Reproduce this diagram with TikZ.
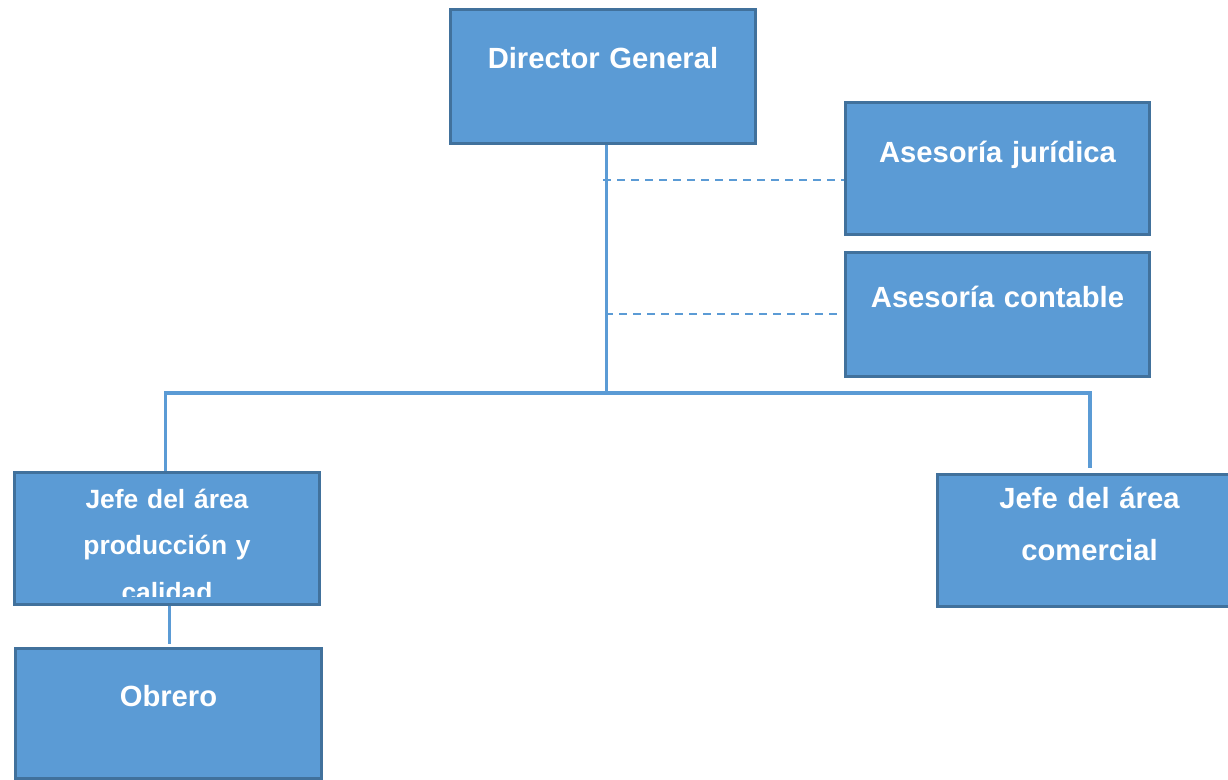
\documentclass[tikz,border=0pt]{standalone}
\usepackage{fontspec}
\setmainfont{Liberation Sans}
\usetikzlibrary{positioning}
\definecolor{boxblue}{HTML}{5B9BD5}
\definecolor{edgeblue}{HTML}{41719C}
\tikzset{
    unit/.style={draw=edgeblue, fill=boxblue, line width=1.5pt, inner sep=0pt,
        text=white, align=center, font=\bfseries\fontsize{14.6}{26}\selectfont},
    unittext/.style={text=white, align=center, inner sep=0pt,
        font=\bfseries\fontsize{13.2}{23.25}\selectfont},
    link/.style={boxblue, line width=1.75pt},
    dashlink/.style={boxblue, line width=1pt, dash pattern=on 4pt off 3pt},
}

\begin{document}
\begin{tikzpicture}[x=0.5pt, y=-0.5pt]
        \useasboundingbox (0,0) rectangle (1228,780);
        % Below nodes are the boxes.
            \node[unit, text width=152.5pt, text height=29.75pt, text depth=37.25pt] (dir) at (603,76.5) {Director General};
            \node[unit, text width=152pt, text height=30pt, text depth=36pt] (jur) at (997.5,169) {Asesoría jurídica};
            \node[unit, text width=152pt, text height=27.5pt, text depth=34.5pt] (con) at (997.5,315) {Asesoría contable};
            \node[unit, text width=152.5pt, minimum height=66pt] (prod) at (167,538.5) {};
            \node[unit, text width=152pt, text height=17pt, text depth=49pt] (com) at (1089.5,540.5) {Jefe del área\\comercial};
            \node[unit, text width=153pt, text height=29.25pt, text depth=35.75pt] (obr) at (168.5,713.5) {Obrero};
        % The text of this box is cut off at its bottom.
            \begin{scope}
                \clip (prod.north west) rectangle ([yshift=4.75pt]prod.south east);
                \node[unittext, text width=152.5pt, anchor=base] (prodtext) at ([yshift=-18.75pt]prod.north) {Jefe del área\\producción y\\calidad};
            \end{scope}
        % This draws the connectors.
            \coordinate (bus) at (606.5,393);
            \draw[link] ([xshift=1.75pt]dir.south) -- (bus);
            \draw[link] ([xshift=-0.65pt]prod.north) |- (bus) -| ([xshift=0.25pt,yshift=2.5pt]com.north);
            \draw[link] ([xshift=1.15pt]prod.south) -- ([xshift=0.4pt,yshift=1.5pt]obr.north);
            \coordinate (t1) at (603,180);
            \coordinate (t2) at (605,314);
            \draw[dashlink] (t1) -- (t1 -| jur.west);
            \draw[dashlink] (t2) -- ([xshift=-3pt]t2 -| con.west);
    \end{tikzpicture}
\end{document}
